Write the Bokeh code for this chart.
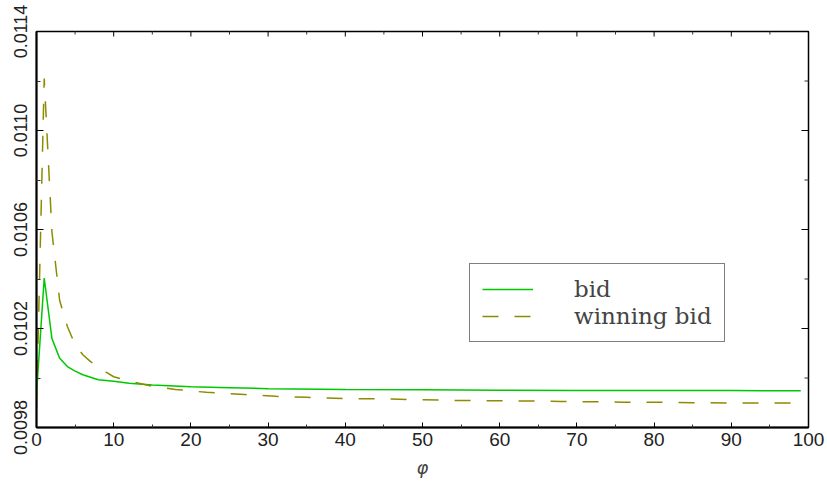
import math
from bokeh.plotting import figure
from bokeh.models import FixedTicker, PrintfTickFormatter, Legend, LegendItem, Range1d
from bokeh.embed import file_html
from bokeh.resources import INLINE

# ---- data ----
phi_bid = [0, 1, 2, 3, 4, 5, 6, 7, 8, 10, 12, 15, 20, 25, 30, 40, 50, 60, 70, 80, 90, 99]
bid = [0.009936, 0.010404, 0.010159, 0.010080, 0.010046, 0.010028, 0.010013, 0.010003,
       0.009993, 0.009987, 0.009979, 0.009972, 0.009965, 0.009961, 0.009957, 0.009954,
       0.009953, 0.009951, 0.009949, 0.009949, 0.009949, 0.009948]

phi_win = [0, 1, 2, 3, 4, 5, 6, 7, 8, 9, 10, 12, 15, 18, 22, 27, 31, 35, 40, 46, 50,
           55, 60, 64, 68, 72, 76, 80, 85, 90, 95, 99]
winning_bid = [0.009880, 0.011210, 0.010590, 0.010313, 0.010208, 0.010135, 0.010094,
               0.010066, 0.010046, 0.010024, 0.010005, 0.009987, 0.009967, 0.009954,
               0.009942, 0.009933, 0.009926, 0.009922, 0.009917, 0.009915, 0.009912,
               0.009909, 0.009908, 0.009907, 0.009905, 0.009904, 0.009902, 0.009902,
               0.009900, 0.009899, 0.009899, 0.009899]

x_major = [0, 10, 20, 30, 40, 50, 60, 70, 80, 90, 100]
x_minor = [5, 15, 25, 35, 45, 55, 65, 75, 85, 95]
y_major = [0.0098, 0.0102, 0.0106, 0.0110, 0.0114]
y_minor = [0.0100, 0.0104, 0.0108, 0.0112]

X_MIN, X_MAX = 0, 100
Y_MIN, Y_MAX = 0.0098, 0.0114

p = figure(width=827, height=481, output_backend="svg", toolbar_location=None,
           x_range=Range1d(X_MIN, X_MAX), y_range=Range1d(Y_MIN, Y_MAX),
           min_border_left=36, min_border_right=19, min_border_top=31,
           min_border_bottom=54, background_fill_color="white",
           border_fill_color="white")
p.xgrid.visible = False
p.ygrid.visible = False
p.outline_line_color = "black"
p.outline_line_width = 1.5

r1 = p.line(phi_bid, bid, line_color="#00c800", line_width=1.5)
r2 = p.line(phi_win, winning_bid, line_color="#8c8c00", line_width=1.5,
            line_dash="16 16")

# inward ticks on the top and right edges (markers centred on the frame edge,
# the outer half is clipped by the frame)
p.scatter(x_major, [Y_MAX] * len(x_major), marker="dash", angle=math.pi / 2,
          size=10, line_color="black", line_width=1)
p.scatter(x_minor, [Y_MAX] * len(x_minor), marker="dash", angle=math.pi / 2,
          size=6, line_color="#333333", line_width=1)
p.scatter([X_MAX] * len(y_major), y_major, marker="dash", size=14,
          line_color="black", line_width=1)
p.scatter([X_MAX] * len(y_minor), y_minor, marker="dash", size=8,
          line_color="#333333", line_width=1)

xt = FixedTicker(ticks=x_major, minor_ticks=x_minor)
yt = FixedTicker(ticks=y_major, minor_ticks=y_minor)


def style(ax, major, minor, width=2):
    ax.axis_line_width = width
    ax.axis_line_color = "black"
    ax.major_tick_in = major
    ax.major_tick_out = 0
    ax.minor_tick_in = minor
    ax.minor_tick_out = 0
    ax.major_tick_line_color = "black"
    ax.minor_tick_line_color = "#333333"
    ax.major_tick_line_width = 1
    ax.minor_tick_line_width = 1


xa = p.xaxis[0]
xa.ticker = xt
style(xa, 5, 3)
xa.major_label_text_font = "Liberation Sans"
xa.major_label_text_font_size = "19px"
xa.major_label_text_color = "#222222"
xa.major_label_standoff = 5
xa.axis_label = "φ"
xa.axis_label_text_font = "DejaVu Sans"
xa.axis_label_text_font_style = "italic"
xa.axis_label_text_font_size = "18px"
xa.axis_label_standoff = 8

ya = p.yaxis[0]
ya.ticker = yt
ya.formatter = PrintfTickFormatter(format="%.4f")
style(ya, 7, 4)
ya.major_label_orientation = "vertical"
ya.major_label_text_font = "Liberation Sans"
ya.major_label_text_font_size = "18px"
ya.major_label_text_color = "#222222"
ya.major_label_standoff = 10

legend = Legend(items=[LegendItem(label="bid", renderers=[r1]),
                       LegendItem(label="winning bid", renderers=[r2])],
                location=(433, 85), orientation="vertical", padding=12, spacing=1,
                glyph_width=51, glyph_height=20, label_height=20,
                label_standoff=41, label_text_font="DejaVu Serif",
                label_text_font_size="23px", border_line_color="black",
                border_line_width=1, margin=0, background_fill_color="white",
                background_fill_alpha=1)
p.add_layout(legend, "center")

open("out.html", "w").write(file_html(p, INLINE))
